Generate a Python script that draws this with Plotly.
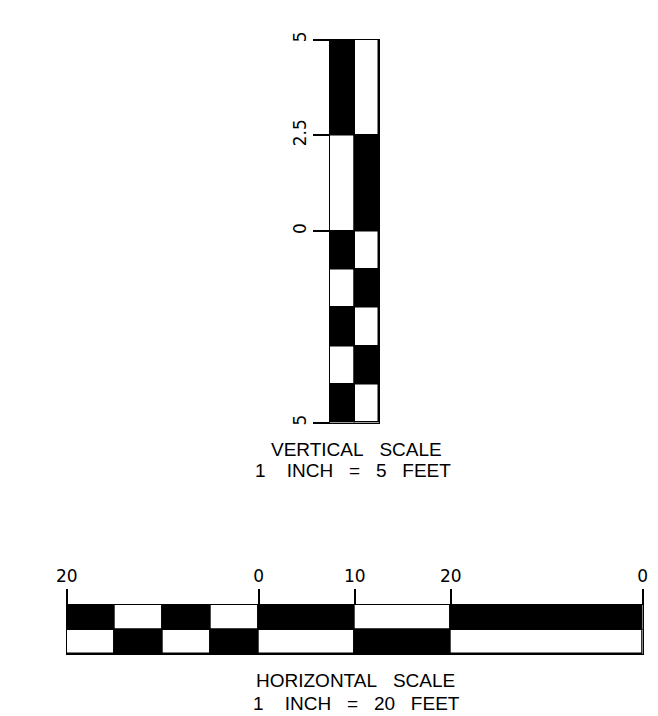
import plotly.graph_objects as go

W, H = 658, 716

# ---- data: vertical scale (feet) ----
v_seg_base = [2.5, 0, -1, -2, -3, -4, -5]
v_seg_len = [2.5, 2.5, 1, 1, 1, 1, 1]
v_left_fill = ["black", "white", "black", "white", "black", "white", "black"]
v_right_fill = ["white", "black", "white", "black", "white", "black", "white"]
v_tick_vals = [5, 2.5, 0, -5]
v_tick_text = ["5", "2.5", "0", "5"]

# ---- data: horizontal scale (feet) ----
h_seg_base = [-20, -15, -10, -5, 0, 10, 20]
h_seg_len = [5, 5, 5, 5, 10, 10, 20]
h_top_fill = ["black", "white", "black", "white", "black", "white", "black"]
h_bot_fill = ["white", "black", "white", "black", "white", "black", "white"]
h_tick_vals = [-20, 0, 10, 20, 40]
h_tick_text = ["20", "0", "10", "20", "0"]

FONT = "Liberation Sans, Arial, sans-serif"
TICKFONT = "DejaVu Sans, Liberation Sans, sans-serif"
LW = 1.5
OFF = 8  # page body margin offset


def px_x(p):
    return (p - OFF) / W


def px_y(p):
    return 1 - (p - OFF) / H


fig = go.Figure()

# vertical scale columns
for xc, fills in ((0.5, v_left_fill), (1.5, v_right_fill)):
    fig.add_trace(go.Bar(
        x=[xc] * len(v_seg_len), y=v_seg_len, base=v_seg_base, width=1,
        marker=dict(color=fills, line=dict(color="black", width=LW)),
        xaxis="x", yaxis="y", showlegend=False, hoverinfo="skip",
    ))

# horizontal scale rows
for yc, fills in ((1.5, h_top_fill), (0.5, h_bot_fill)):
    fig.add_trace(go.Bar(
        y=[yc] * len(h_seg_len), x=h_seg_len, base=h_seg_base, width=1,
        orientation="h",
        marker=dict(color=fills, line=dict(color="black", width=LW)),
        xaxis="x2", yaxis="y2", showlegend=False, hoverinfo="skip",
    ))

tickfont = dict(family=TICKFONT, size=17, color="black")
frame = dict(showline=True, mirror=True, linecolor="black", linewidth=1.25,
             showgrid=False, zeroline=False, automargin=False, fixedrange=True)

fig.update_layout(
    width=W, height=H, autosize=False,
    margin=dict(l=0, r=0, t=0, b=0, autoexpand=False),
    paper_bgcolor="white", plot_bgcolor="rgba(0,0,0,0)",
    barmode="overlay", bargap=0,
    xaxis=dict(domain=[px_x(330), px_x(379)], range=[0, 2], anchor="y",
               showticklabels=False, ticks="", **frame),
    yaxis=dict(domain=[px_y(422.7), px_y(39.5)], range=[-5, 5], anchor="x",
               tickmode="array", tickvals=v_tick_vals, ticktext=v_tick_text,
               ticks="outside", ticklen=16, tickwidth=2, tickcolor="black",
               tickangle=-90, tickfont=tickfont, **frame),
    xaxis2=dict(domain=[px_x(66.7), px_x(642.7)], range=[-20, 40], anchor="y2",
                side="top", tickmode="array", tickvals=h_tick_vals,
                ticktext=h_tick_text, ticks="outside", ticklen=15,
                tickwidth=2, tickcolor="black", tickfont=tickfont, **frame),
    yaxis2=dict(domain=[px_y(654), px_y(605)], range=[0, 2], anchor="x2",
                showticklabels=False, ticks="", **frame),
)

SP = "\u00a0\u00a0\u00a0"
notes = [
    ("VERTICAL" + SP + "SCALE", 356, 449.5),
    ("1" + SP + "\u00a0INCH" + SP + "=" + SP + "5" + SP + "FEET", 353, 470.5),
    ("HORIZONTAL" + SP + "SCALE", 355, 680.5),
    ("1" + SP + "\u00a0INCH" + SP + "=" + SP + "20" + SP + "FEET", 356, 703),
]
for txt, cx, cy in notes:
    fig.add_annotation(text=txt, x=px_x(cx), y=px_y(cy), xref="paper",
                       yref="paper", xanchor="center", yanchor="middle",
                       showarrow=False,
                       font=dict(family=FONT, size=19, color="black"))

fig.write_html("out.html")
